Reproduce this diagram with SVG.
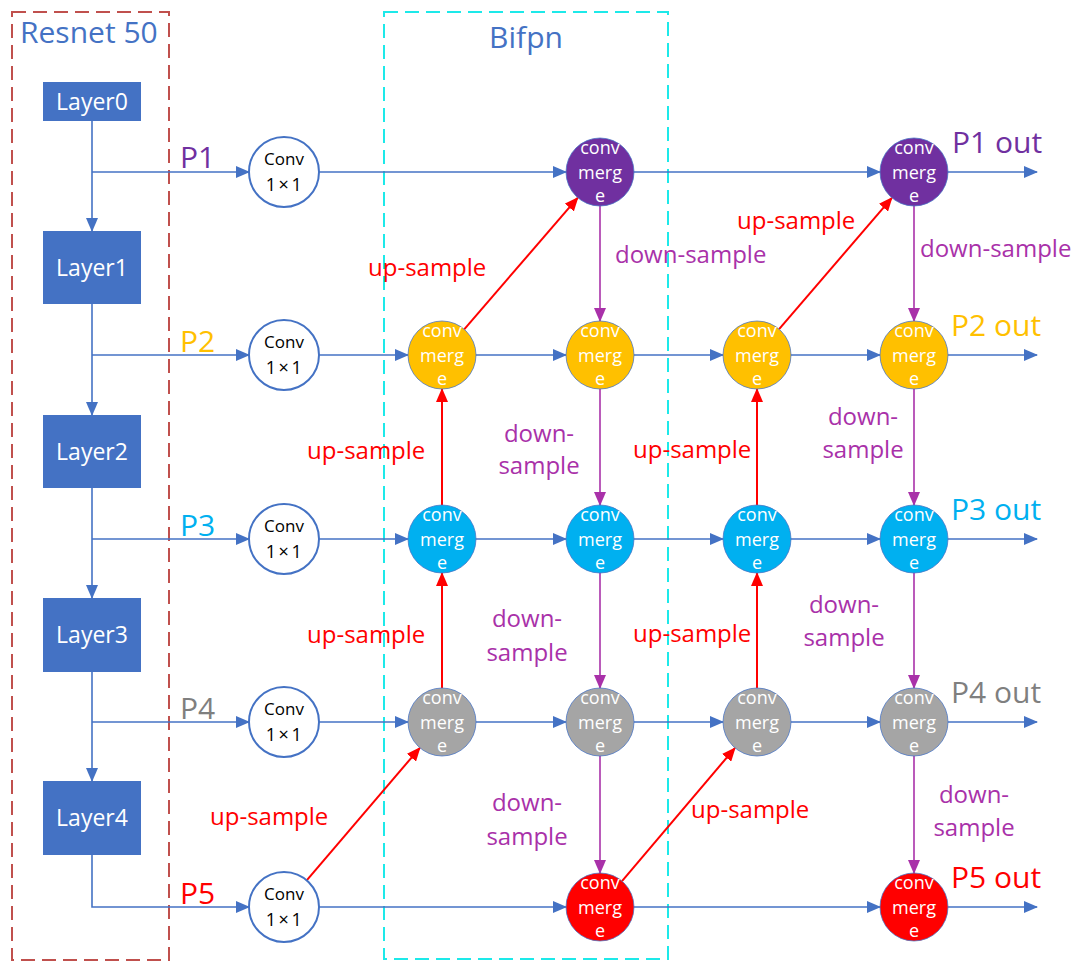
<svg xmlns="http://www.w3.org/2000/svg" width="1078" height="963" viewBox="0 0 1078 963">
<style>
text{font-family:"Open Sans","Noto Sans","Liberation Sans",sans-serif}
.layer rect{fill:#4472C4}
.layer text{fill:#fff;font-size:23px;text-anchor:middle}
.conv circle{fill:#fff;stroke:#4472C4;stroke-width:2}
.conv text{fill:#000;font-size:17px;text-anchor:middle}
.conv .x{font-size:18px;letter-spacing:2.5px}
.m circle{stroke:#4472C4;stroke-width:0.75}
.m text{fill:#fff;font-size:18px;text-anchor:middle}
.pu{fill:#7030A0}.ye{fill:#FFC000}.bl{fill:#00B0F0}.gr{fill:#A5A5A5}.rd{fill:#FF0000}
.b{stroke:#4472C4;stroke-width:1.6;fill:none;marker-end:url(#ab)}
.r{stroke:#FF0000;stroke-width:2;fill:none;marker-end:url(#ar)}
.p{stroke:#A931A9;stroke-width:1.6;fill:none;marker-end:url(#ap)}
.lu{fill:#FF0000;font-size:24px}
.ld{fill:#A931A9;font-size:24px}
.lp{font-size:30px}
</style>
<defs>
<marker id="ab" markerWidth="14" markerHeight="12" refX="13" refY="6" orient="auto" markerUnits="userSpaceOnUse"><path d="M0,0 L14,6 L0,12 Z" fill="#4472C4"/></marker>
<marker id="ar" markerWidth="14" markerHeight="12" refX="13" refY="6" orient="auto" markerUnits="userSpaceOnUse"><path d="M0,0 L14,6 L0,12 Z" fill="#FF0000"/></marker>
<marker id="ap" markerWidth="14" markerHeight="12" refX="13" refY="6" orient="auto" markerUnits="userSpaceOnUse"><path d="M0,0 L14,6 L0,12 Z" fill="#A931A9"/></marker>
</defs>
<rect width="1078" height="963" fill="#fff"/>

<g id="resnet-frame">
<rect x="12" y="12" width="157" height="948" fill="none" stroke="#C0504D" stroke-width="2" stroke-dasharray="14 7"/>
<text x="20" y="43" font-size="30" fill="#4472C4">Resnet 50</text>
</g>
<g id="bifpn-frame">
<rect x="384" y="12" width="284" height="947" fill="none" stroke="#1DE9E9" stroke-width="2" stroke-dasharray="14 7"/>
<text x="526" y="48" font-size="30" fill="#4472C4" text-anchor="middle">Bifpn</text>
</g>

<g id="connectors">
<path class="b" d="M92,121 V231"/>
<path class="b" d="M92,304 V415"/>
<path class="b" d="M92,488 V598"/>
<path class="b" d="M92,672 V781"/>
<path class="b" d="M92,172 H249"/>
<path class="b" d="M92,355 H249"/>
<path class="b" d="M92,539 H249"/>
<path class="b" d="M92,722 H249"/>
<path class="b" d="M92,855 V907 H249"/>
<path class="b" d="M319,172 H566"/>
<path class="b" d="M634,172 H880"/>
<path class="b" d="M948,172 H1037"/>
<path class="b" d="M319,355 H408"/>
<path class="b" d="M476,355 H566"/>
<path class="b" d="M634,355 H723"/>
<path class="b" d="M791,355 H880"/>
<path class="b" d="M948,355 H1037"/>
<path class="b" d="M319,539 H408"/>
<path class="b" d="M476,539 H566"/>
<path class="b" d="M634,539 H723"/>
<path class="b" d="M791,539 H880"/>
<path class="b" d="M948,539 H1037"/>
<path class="b" d="M319,722 H408"/>
<path class="b" d="M476,722 H566"/>
<path class="b" d="M634,722 H723"/>
<path class="b" d="M791,722 H880"/>
<path class="b" d="M948,722 H1037"/>
<path class="b" d="M319,907 H566"/>
<path class="b" d="M634,907 H880"/>
<path class="b" d="M948,907 H1037"/>
<path class="r" d="M306.7,880.4 L419.9,747.8"/>
<path class="r" d="M442,688 V573"/>
<path class="r" d="M442,505 V389"/>
<path class="r" d="M464.2,329.3 L577.8,197.7"/>
<path class="r" d="M622,881.1 L735,747.9"/>
<path class="r" d="M757,688 V573"/>
<path class="r" d="M757,505 V389"/>
<path class="r" d="M779.1,329.2 L891.9,197.8"/>
<path class="p" d="M600,206 V321"/>
<path class="p" d="M600,389 V505"/>
<path class="p" d="M600,573 V688"/>
<path class="p" d="M600,756 V873"/>
<path class="p" d="M914,206 V321"/>
<path class="p" d="M914,389 V505"/>
<path class="p" d="M914,573 V688"/>
<path class="p" d="M914,756 V873"/>
</g>

<g id="connector-labels">
<text class="lp" x="180" y="168" fill="#7030A0">P1</text>
<text class="lp" x="180" y="352" fill="#FFC000">P2</text>
<text class="lp" x="180" y="536" fill="#00B0F0">P3</text>
<text class="lp" x="180" y="719" fill="#7F7F7F">P4</text>
<text class="lp" x="180" y="904" fill="#FF0000">P5</text>
<text class="lp" x="952" y="153" fill="#7030A0">P1 out</text>
<text class="lp" x="951" y="336" fill="#FFC000">P2 out</text>
<text class="lp" x="951" y="520" fill="#00B0F0">P3 out</text>
<text class="lp" x="951" y="703" fill="#7F7F7F">P4 out</text>
<text class="lp" x="951" y="888" fill="#FF0000">P5 out</text>

<text class="lu" x="210" y="825">up-sample</text>
<text class="lu" x="307" y="643">up-sample</text>
<text class="lu" x="307" y="459">up-sample</text>
<text class="lu" x="368" y="276">up-sample</text>
<text class="lu" x="691" y="818">up-sample</text>
<text class="lu" x="633" y="642">up-sample</text>
<text class="lu" x="633" y="458">up-sample</text>
<text class="lu" x="737" y="229">up-sample</text>

<text class="ld" x="615" y="263">down-sample</text>
<text class="ld" x="920" y="257">down-sample</text>
<text class="ld" text-anchor="middle" x="539" y="442">down-</text>
<text class="ld" text-anchor="middle" x="539" y="474">sample</text>
<text class="ld" text-anchor="middle" x="527" y="627">down-</text>
<text class="ld" text-anchor="middle" x="527" y="661">sample</text>
<text class="ld" text-anchor="middle" x="527" y="811">down-</text>
<text class="ld" text-anchor="middle" x="527" y="845">sample</text>
<text class="ld" text-anchor="middle" x="863" y="425">down-</text>
<text class="ld" text-anchor="middle" x="863" y="458">sample</text>
<text class="ld" text-anchor="middle" x="844" y="613">down-</text>
<text class="ld" text-anchor="middle" x="844" y="646">sample</text>
<text class="ld" text-anchor="middle" x="974" y="803">down-</text>
<text class="ld" text-anchor="middle" x="974" y="836">sample</text>
</g>

<g id="layer0" class="layer"><rect x="43" y="82" width="98" height="39"/><text x="92" y="110">Layer0</text></g>
<g id="layer1" class="layer"><rect x="43" y="231" width="98" height="73"/><text x="92" y="276">Layer1</text></g>
<g id="layer2" class="layer"><rect x="43" y="415" width="98" height="73"/><text x="92" y="460">Layer2</text></g>
<g id="layer3" class="layer"><rect x="43" y="598" width="98" height="74"/><text x="92" y="643">Layer3</text></g>
<g id="layer4" class="layer"><rect x="43" y="781" width="98" height="74"/><text x="92" y="826">Layer4</text></g>

<g id="conv1" class="conv"><circle cx="284" cy="172" r="35"/><text x="284" y="165">Conv</text><text class="x" x="285" y="191">1×1</text></g>
<g id="conv2" class="conv"><circle cx="284" cy="355" r="35"/><text x="284" y="348">Conv</text><text class="x" x="285" y="374">1×1</text></g>
<g id="conv3" class="conv"><circle cx="284" cy="539" r="35"/><text x="284" y="532">Conv</text><text class="x" x="285" y="558">1×1</text></g>
<g id="conv4" class="conv"><circle cx="284" cy="722" r="35"/><text x="284" y="715">Conv</text><text class="x" x="285" y="741">1×1</text></g>
<g id="conv5" class="conv"><circle cx="284" cy="907" r="35"/><text x="284" y="900">Conv</text><text class="x" x="285" y="926">1×1</text></g>

<g id="m-p1-c2" class="m"><circle class="pu" cx="600" cy="172" r="34"/><text x="600" y="154">conv</text><text x="600" y="179">merg</text><text x="600" y="202">e</text></g>
<g id="m-p1-c4" class="m"><circle class="pu" cx="914" cy="172" r="34"/><text x="914" y="154">conv</text><text x="914" y="179">merg</text><text x="914" y="202">e</text></g>

<g id="m-p2-c1" class="m"><circle class="ye" cx="442" cy="355" r="34"/><text x="442" y="337">conv</text><text x="442" y="362">merg</text><text x="442" y="385">e</text></g>
<g id="m-p2-c2" class="m"><circle class="ye" cx="600" cy="355" r="34"/><text x="600" y="337">conv</text><text x="600" y="362">merg</text><text x="600" y="385">e</text></g>
<g id="m-p2-c3" class="m"><circle class="ye" cx="757" cy="355" r="34"/><text x="757" y="337">conv</text><text x="757" y="362">merg</text><text x="757" y="385">e</text></g>
<g id="m-p2-c4" class="m"><circle class="ye" cx="914" cy="355" r="34"/><text x="914" y="337">conv</text><text x="914" y="362">merg</text><text x="914" y="385">e</text></g>

<g id="m-p3-c1" class="m"><circle class="bl" cx="442" cy="539" r="34"/><text x="442" y="521">conv</text><text x="442" y="546">merg</text><text x="442" y="569">e</text></g>
<g id="m-p3-c2" class="m"><circle class="bl" cx="600" cy="539" r="34"/><text x="600" y="521">conv</text><text x="600" y="546">merg</text><text x="600" y="569">e</text></g>
<g id="m-p3-c3" class="m"><circle class="bl" cx="757" cy="539" r="34"/><text x="757" y="521">conv</text><text x="757" y="546">merg</text><text x="757" y="569">e</text></g>
<g id="m-p3-c4" class="m"><circle class="bl" cx="914" cy="539" r="34"/><text x="914" y="521">conv</text><text x="914" y="546">merg</text><text x="914" y="569">e</text></g>

<g id="m-p4-c1" class="m"><circle class="gr" cx="442" cy="722" r="34"/><text x="442" y="704">conv</text><text x="442" y="729">merg</text><text x="442" y="752">e</text></g>
<g id="m-p4-c2" class="m"><circle class="gr" cx="600" cy="722" r="34"/><text x="600" y="704">conv</text><text x="600" y="729">merg</text><text x="600" y="752">e</text></g>
<g id="m-p4-c3" class="m"><circle class="gr" cx="757" cy="722" r="34"/><text x="757" y="704">conv</text><text x="757" y="729">merg</text><text x="757" y="752">e</text></g>
<g id="m-p4-c4" class="m"><circle class="gr" cx="914" cy="722" r="34"/><text x="914" y="704">conv</text><text x="914" y="729">merg</text><text x="914" y="752">e</text></g>

<g id="m-p5-c2" class="m"><circle class="rd" cx="600" cy="907" r="34"/><text x="600" y="889">conv</text><text x="600" y="914">merg</text><text x="600" y="937">e</text></g>
<g id="m-p5-c4" class="m"><circle class="rd" cx="914" cy="907" r="34"/><text x="914" y="889">conv</text><text x="914" y="914">merg</text><text x="914" y="937">e</text></g>
</svg>
